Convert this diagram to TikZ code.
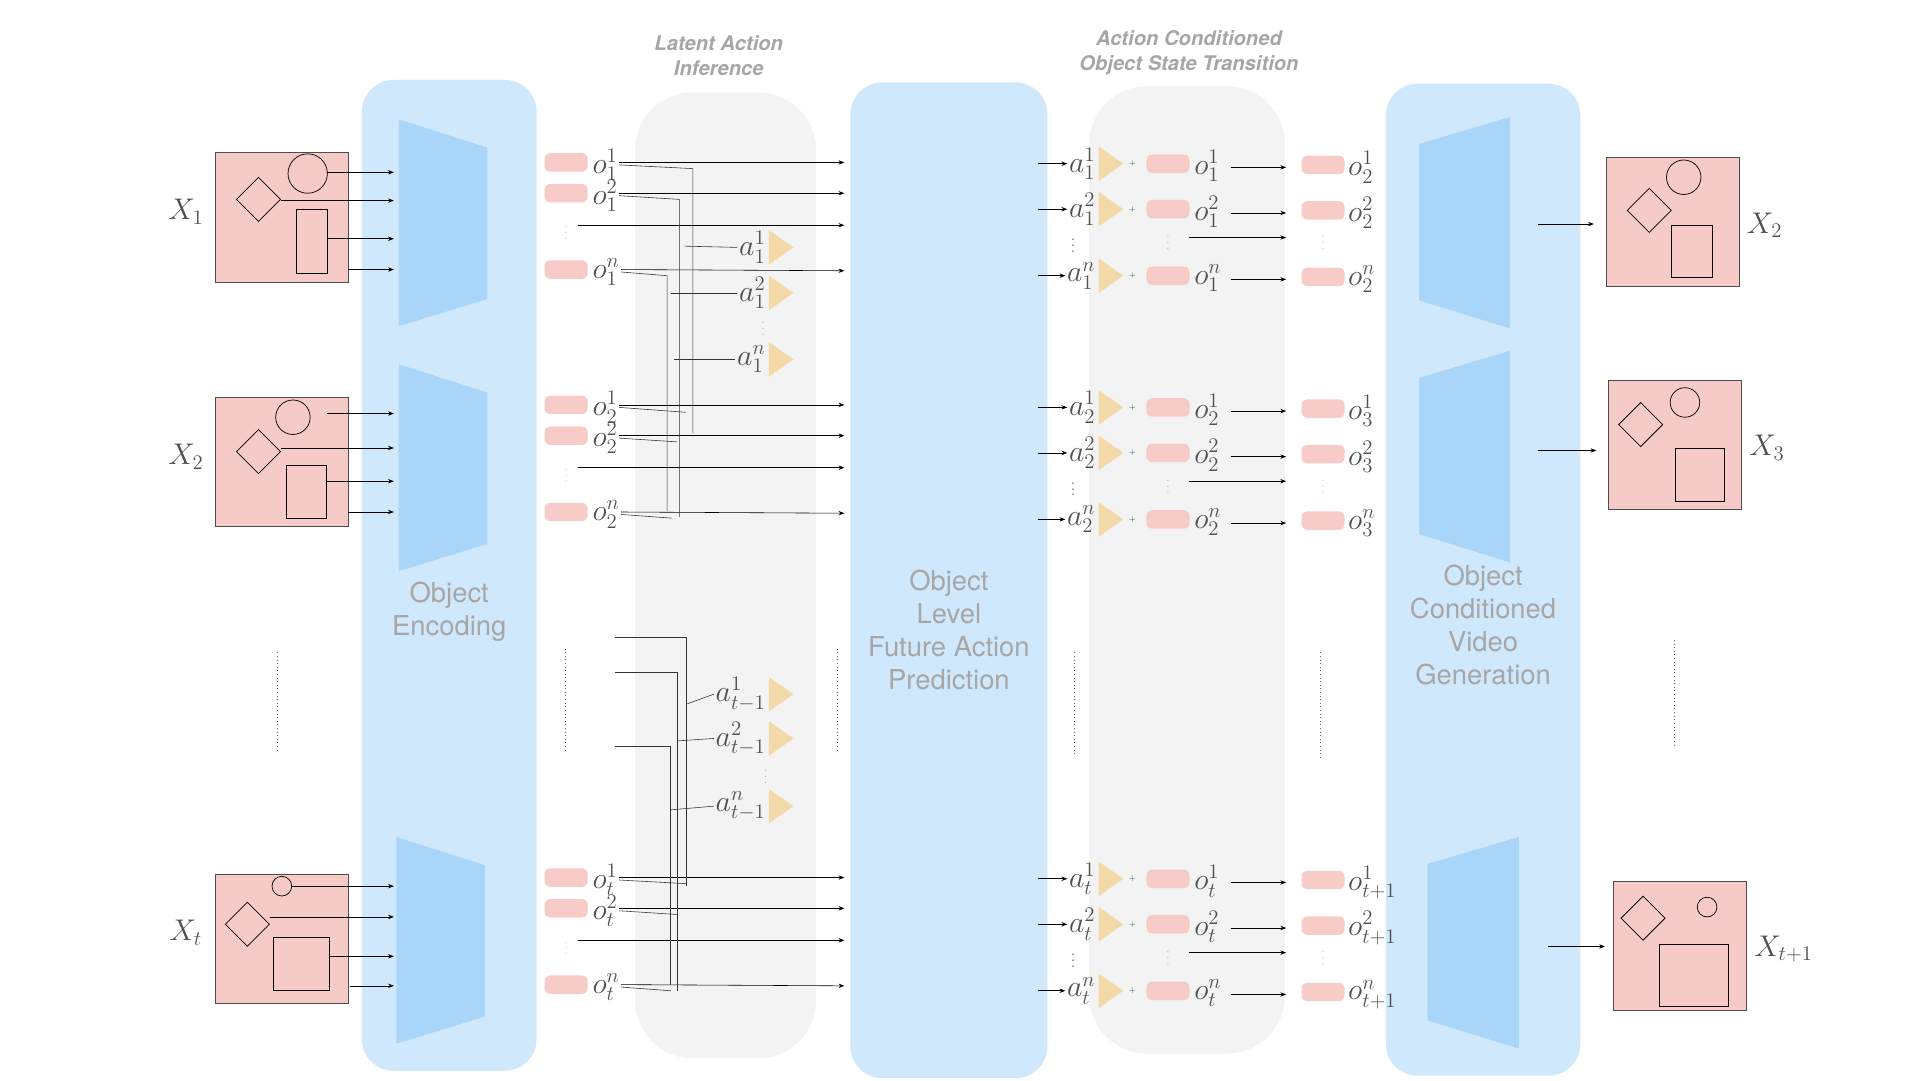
\documentclass[tikz,border=0pt]{standalone}
\usepackage{fontspec}
\setsansfont{TeX Gyre Heros}
\usetikzlibrary{arrows.meta,shapes.geometric}
\definecolor{colblue}{HTML}{CFE8FC}
\definecolor{trapblue}{HTML}{A9D6F8}
\definecolor{colgray}{HTML}{F3F3F3}
\definecolor{pillpink}{HTML}{F7CBC8}
\definecolor{imgpink}{HTML}{F6CAC6}
\definecolor{triyellow}{HTML}{F3D9A8}
\definecolor{txtgray}{HTML}{A6A6A6}
\definecolor{mathgray}{HTML}{505050}
\begin{document}
\begin{tikzpicture}[
  x = 0.03cm, y = -0.03cm,
  column/.style = {fill = colblue, rounded corners = 22},
  panel/.style = {fill = colgray, rounded corners = 40},
  pill/.style = {
    shape = rectangle, fill = pillpink, rounded corners = 4pt,
    minimum width = 35*0.03cm, minimum height = 15*0.03cm,
    inner sep = 0pt,
  },
  tri/.style = {
    shape = isosceles triangle, fill = triyellow, isosceles triangle apex angle = 70,
    minimum height = 20*0.03cm, inner sep = 0pt,
  },
  lbl/.style = {text = mathgray, font = \fontsize{20}{23}\selectfont, inner sep = 1pt},
  coltext/.style = {text = txtgray, font = \sffamily\fontsize{19}{23}\selectfont, align = center},
  title/.style = {text = txtgray, font = \sffamily\bfseries\itshape\fontsize{14}{17}\selectfont, align = center},
  img/.style = {fill = imgpink, draw = black!70, line width = 0.4pt},
  arr/.style = {-{Stealth[length = 4pt, width = 3pt]}, line width = 0.4pt},
  wire/.style = {line width = 0.4pt, black!80},
  vdots/.style = {dotted, line width = 0.5pt, black!60},
]
  \useasboundingbox (0, 0) rectangle (1560, 878);

  % columns and panels
  \fill[column] (294, 65) rectangle (436, 870);
  \fill[column] (691, 67) rectangle (851, 876);
  \fill[column] (1126, 68) rectangle (1284, 874);
  \fill[panel] (516, 75) rectangle (663, 860);
  \fill[panel] (885, 70) rectangle (1044, 856);

  \node[title] (tinf) at (584, 45) {Latent Action\\Inference};
  \node[title] (ttrans) at (966, 43) {Action Conditioned\\Object State Transition};
  \node[coltext] (tenc) at (365, 497) {Object\\Encoding};
  \node[coltext] (tpred) at (771, 512) {Object\\Level\\Future Action\\Prediction};
  \node[coltext] (tgen) at (1205, 508) {Object\\Conditioned\\Video\\Generation};

  % encoders and decoders
  \foreach \yt/\dx in {97/0, 296/0, 680/-2}
    \fill[trapblue] (324+\dx, \yt) -- (396+\dx, \yt+23) -- (396+\dx, \yt+146) -- (324+\dx, \yt+168) -- cycle;
  \foreach \yt/\dx in {95/0, 285/0, 680/7}
    \fill[trapblue] (1227+\dx, \yt) -- (1153+\dx, \yt+22) -- (1153+\dx, \yt+149) -- (1227+\dx, \yt+172) -- cycle;

  % input frames
  \foreach \n/\bx/\by/\cx/\cy/\r/\dxx/\dyy/\rx/\ry/\rw/\rh/\lab in {
      a/175/124/250/141/16/210/162/241/170/25/52/{X_1},
      b/175/323/238/339/14/210/367/233/378/32/43/{X_2},
      c/175/710/229/720/8/201/751/222/762/46/43/{X_t}} {
    \draw[img] (\bx, \by) rectangle (\bx+108, \by+105);
    \draw[line width = 0.5pt] (\cx, \cy) circle (\r);
    \node[draw, diamond, minimum size = 36*0.03cm, inner sep = 0pt, line width = 0.5pt] (dm\n) at (\dxx, \dyy) {};
    \draw[line width = 0.5pt] (\rx, \ry) rectangle (\rx+\rw, \ry+\rh);
    \node[lbl] (X\n) at (\bx-24, \by+48) {$\lab$};
  }
  \foreach \sx/\y in {266/140, 228/163, 266/194, 283/219, 266/336, 228/364, 265/391, 283/416, 237/720, 219/745, 268/777, 284/801}
    \draw[arr] (\sx, \y) -- (320, \y);

  % output frames
  \foreach \n/\bx/\by/\cx/\cy/\r/\dxx/\dyy/\rx/\ry/\rw/\rh/\lab in {
      a/1305/128/1368/144/14/1340/171/1358/183/33/42/{X_2},
      b/1307/309/1369/327/12/1333/345/1361/364/40/43/{X_3},
      c/1311/716/1387/737/8/1335/746/1348/767/56/51/{X_{t+1}}} {
    \draw[img] (\bx, \by) rectangle (\bx+108, \by+105);
    \draw[line width = 0.5pt] (\cx, \cy) circle (\r);
    \node[draw, diamond, minimum size = 36*0.03cm, inner sep = 0pt, line width = 0.5pt] (dn\n) at (\dxx, \dyy) {};
    \draw[line width = 0.5pt] (\rx, \ry) rectangle (\rx+\rw, \ry+\rh);
    \node[lbl, anchor = west] (Y\n) at (\bx+113, \by+55) {$\lab$};
  }
  \draw[arr] (1250, 182) -- (1295, 182);
  \draw[arr] (1250, 366) -- (1297, 366);
  \draw[arr] (1258, 769) -- (1304, 769);

  % object slots after encoding
  \foreach \g/\y/\s in {a/132/1, b/329/2, c/713/t} {
    \node[pill] (p\g1) at (460, \y) {};
    \node[pill] (p\g2) at (460, \y+25) {};
    \node[pill] (p\g3) at (460, \y+87) {};
    \node[lbl, anchor = west] (o\g1) at (480, \y+2) {$o_{\s}^{1}$};
    \node[lbl, anchor = west] (o\g2) at (480, \y+27) {$o_{\s}^{2}$};
    \node[lbl, anchor = west] (o\g3) at (480, \y+89) {$o_{\s}^{n}$};
    \node[lbl, font = \tiny] (d\g) at (460, \y+54) {$\vdots$};
    \draw[arr] (o\g1.east |- p\g1.center) -- (686, \y);
    \draw[arr] (o\g2.east |- p\g2.center) -- (686, \y+25);
    \draw[arr] (470, \y+51) -- (686, \y+51);
    \draw[arr] (o\g3.east |- p\g3.center) -- (686, \y+88);
  }

  % latent actions
  \foreach \n/\y/\lab in {a1/201/{a_1^1}, a2/238/{a_1^2}, a3/292/{a_1^n},
      b1/564/{a_{t-1}^1}, b2/600/{a_{t-1}^2}, b3/655/{a_{t-1}^n}} {
    \node[tri] (t\n) at (632, \y) {};
    \node[lbl, anchor = east] (l\n) at ([xshift = -1pt]t\n.west) {$\lab$};
  }
  \node[lbl, font = \tiny] (dla) at (620, 264) {$\vdots$};
  \node[lbl, font = \tiny] (dlb) at (622, 628) {$\vdots$};
  \draw[wire] (oa1.east) -- (563, 137) -- (563, 352);
  \draw[wire] (oa2.east) -- (552, 162) -- (552, 420);
  \draw[wire] (oa3.east) -- (542, 224) -- (542, 415);
  \draw[wire] (ob1.east) -- (557, 335);
  \draw[wire] (ob2.east) -- (550, 359);
  \draw[wire] (ob3.east) -- (546, 421);
  \draw[wire] (556, 200) -- (la1.west);
  \draw[wire] (545, 238) -- (la2.west);
  \draw[wire] (548, 292) -- (la3.west);
  \draw[wire] (500, 518) -- (558, 518) -- (558, 720);
  \draw[wire] (500, 546) -- (550, 546) -- (550, 805);
  \draw[wire] (500, 606) -- (545, 606) -- (545, 800);
  \draw[wire] (oc1.east) -- (558, 718);
  \draw[wire] (oc2.east) -- (550, 743);
  \draw[wire] (oc3.east) -- (545, 805);
  \draw[wire] (558, 572) -- (lb1.west);
  \draw[wire] (550, 602) -- (lb2.west);
  \draw[wire] (545, 658) -- (lb3.west);

  % state transition rows
  \foreach \g/\y/\s/\t in {a/133/1/2, b/331/2/3, c/714/t/t+1} {
    \foreach \k/\dy/\sup in {1/0/1, 2/37/2, 3/91/n} {
      \node[tri] (q\g\k) at (900, \y+\dy) {};
      \node[lbl, anchor = east] (u\g\k) at ([xshift = -1pt]q\g\k.west) {$a_{\s}^{\sup}$};
      \node[text = mathgray, font = \tiny] (plus\g\k) at (920, \y+\dy) {+};
      \node[pill] (r\g\k) at (949, \y+\dy) {};
      \node[lbl, anchor = west] (v\g\k) at (969, \y+\dy+2) {$o_{\s}^{\sup}$};
      \node[pill] (s\g\k) at (1075, \y+\dy+1) {};
      \node[lbl, anchor = west] (w\g\k) at (1094, \y+\dy+3) {$o_{\t}^{\sup}$};
      \draw[arr] (843, \y+\dy) -- (u\g\k.west);
      \draw[arr] (1000, \y+\dy+3) -- (1045, \y+\dy+3);
    }
    \node[lbl, font = \normalsize] (ud\g) at (872, \y+63) {$\vdots$};
    \node[lbl, font = \tiny] (vd\g) at (949, \y+61) {$\vdots$};
    \node[lbl, font = \tiny] (wd\g) at (1075, \y+61) {$\vdots$};
    \draw[arr] (966, \y+60) -- (1045, \y+60);
  }

  % ellipsis between groups
  \foreach \x/\ya/\yb in {225/530/612, 459/527/610, 680/527/610, 873/530/613, 1073/530/615, 1360/520/605}
    \draw[vdots] (\x, \ya) -- (\x, \yb);
\end{tikzpicture}
\end{document}
